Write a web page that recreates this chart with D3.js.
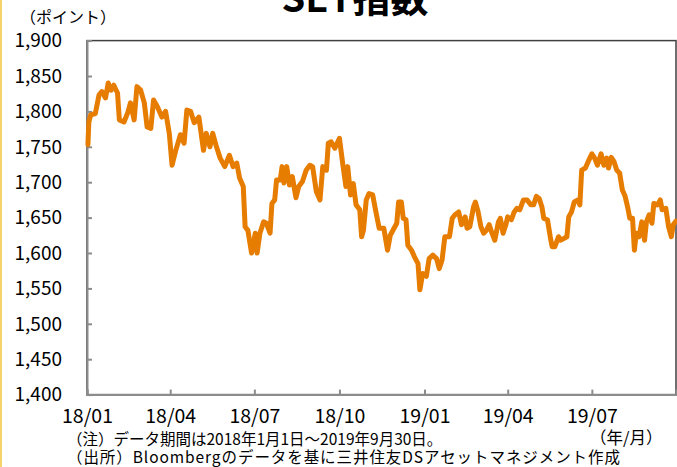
<!DOCTYPE html>
<html><head><meta charset="utf-8">
<script src="https://cdn.jsdelivr.net/npm/d3@7/dist/d3.min.js"></script>
<style>body{margin:0;background:#fff}svg{display:block}</style>
</head><body>
<svg id="c" width="677" height="467"></svg>
<script>
const title = "SET指数";
const yUnit = "（ポイント）";
const xUnit = "（年/月）";
const notes = ["（注）データ期間は2018年1月1日～2019年9月30日。","（出所）Bloombergのデータを基に三井住友DSアセットマネジメント作成"];
const yTicks = [1400,1450,1500,1550,1600,1650,1700,1750,1800,1850,1900];
const xTickDates = ["2018-01-01","2018-04-01","2018-07-01","2018-10-01","2019-01-01","2019-04-01","2019-07-01"];
const xTickLabels = ["18/01","18/04","18/07","18/10","19/01","19/04","19/07"];
const dates = ["2018-01-02","2018-01-03","2018-01-05","2018-01-10","2018-01-14","2018-01-17","2018-01-21","2018-01-24","2018-01-27","2018-01-30",
"2018-02-03","2018-02-05","2018-02-10","2018-02-14","2018-02-17","2018-02-21","2018-02-24","2018-02-28","2018-03-04","2018-03-07",
"2018-03-11","2018-03-14","2018-03-18","2018-03-23","2018-03-27","2018-03-31","2018-04-03","2018-04-07","2018-04-12","2018-04-16",
"2018-04-19","2018-04-23","2018-04-27","2018-05-02","2018-05-07","2018-05-10","2018-05-14","2018-05-17","2018-05-21","2018-05-25",
"2018-05-30","2018-06-04","2018-06-08","2018-06-12","2018-06-15","2018-06-19","2018-06-21","2018-06-24","2018-06-28","2018-07-02",
"2018-07-04","2018-07-07","2018-07-11","2018-07-14","2018-07-18","2018-07-20","2018-07-23","2018-07-25","2018-07-29","2018-07-31",
"2018-08-02","2018-08-05","2018-08-08","2018-08-11","2018-08-15","2018-08-18","2018-08-22","2018-08-26","2018-08-30","2018-09-02",
"2018-09-06","2018-09-10","2018-09-13","2018-09-17","2018-09-19","2018-09-22","2018-09-26","2018-10-01","2018-10-05","2018-10-08",
"2018-10-10","2018-10-13","2018-10-16","2018-10-19","2018-10-23","2018-10-25","2018-10-27","2018-10-30","2018-11-02","2018-11-06",
"2018-11-09","2018-11-13","2018-11-18","2018-11-22","2018-11-25","2018-12-02","2018-12-04","2018-12-07","2018-12-09","2018-12-12",
"2018-12-14","2018-12-18","2018-12-21","2018-12-25","2018-12-27","2018-12-30","2019-01-03","2019-01-06","2019-01-10","2019-01-14",
"2019-01-17","2019-01-20","2019-01-23","2019-01-28","2019-01-31","2019-02-03","2019-02-07","2019-02-10","2019-02-14","2019-02-16",
"2019-02-19","2019-02-23","2019-02-25","2019-02-28","2019-03-03","2019-03-06","2019-03-09","2019-03-12","2019-03-15","2019-03-18",
"2019-03-22","2019-03-24","2019-03-27","2019-03-30","2019-04-01","2019-04-05","2019-04-08","2019-04-11","2019-04-14","2019-04-18",
"2019-04-22","2019-04-26","2019-04-29","2019-05-02","2019-05-05","2019-05-08","2019-05-10","2019-05-14","2019-05-17","2019-05-19",
"2019-05-22","2019-05-26","2019-05-28","2019-05-31","2019-06-04","2019-06-06","2019-06-09","2019-06-12","2019-06-16","2019-06-18",
"2019-06-20","2019-06-24","2019-06-27","2019-07-01","2019-07-04","2019-07-07","2019-07-11","2019-07-14","2019-07-17","2019-07-19",
"2019-07-22","2019-07-25","2019-07-28","2019-07-31","2019-08-03","2019-08-06","2019-08-09","2019-08-11","2019-08-14","2019-08-16",
"2019-08-18","2019-08-21","2019-08-24","2019-08-27","2019-08-29","2019-09-01","2019-09-04","2019-09-06","2019-09-10","2019-09-13",
"2019-09-15","2019-09-19","2019-09-22","2019-09-25","2019-09-27","2019-09-30"];
const values = [1753,1785,1795,1797,1823,1828,1819,1840,1830,1837,
1826,1788,1785,1798,1812,1788,1835,1830,1812,1778,
1776,1816,1807,1792,1800,1769,1724,1745,1767,1755,
1802,1800,1784,1792,1745,1769,1750,1769,1750,1734,
1722,1738,1722,1727,1706,1694,1637,1632,1600,1628,
1600,1628,1644,1642,1628,1670,1675,1703,1703,1722,
1699,1722,1696,1708,1678,1694,1701,1717,1724,1722,
1687,1675,1722,1717,1755,1757,1748,1762,1722,1694,
1722,1682,1698,1668,1661,1623,1632,1675,1684,1682,
1661,1635,1635,1604,1625,1642,1672,1672,1649,1647,
1611,1604,1595,1585,1548,1571,1567,1592,1597,1592,
1578,1590,1623,1623,1649,1654,1658,1640,1651,1635,
1637,1665,1672,1658,1637,1628,1632,1640,1628,1618,
1644,1649,1628,1640,1651,1647,1658,1663,1661,1675,
1675,1668,1668,1680,1677,1665,1649,1647,1623,1609,
1609,1623,1618,1620,1623,1651,1658,1672,1675,1668,
1717,1720,1729,1740,1734,1724,1740,1724,1734,1720,
1735,1729,1717,1713,1689,1680,1663,1649,1649,1604,
1628,1623,1644,1618,1644,1654,1642,1670,1668,1675,
1661,1663,1637,1623,1640,1645];

const W = 677, H = 467;
const m = {left: 87, right: 676, top: 40.6, bottom: 394.6};
const font = "'Noto Sans CJK JP','Noto Sans',sans-serif";
const parse = d3.utcParse("%Y-%m-%d");
const svg = d3.select("#c");

svg.append("rect").attr("x",0).attr("y",0).attr("width",2).attr("height",H).attr("fill","#f5d26a");

const x = d3.scaleUtc().domain([parse("2018-01-01"), parse("2019-09-30")]).range([m.left, m.right]);
const y = d3.scaleLinear().domain([1400,1900]).range([m.bottom, m.top]);

// plot frame
svg.append("rect").attr("x",m.left).attr("y",m.top).attr("width",m.right-m.left).attr("height",m.bottom-m.top)
  .attr("fill","none").attr("stroke","#404040").attr("stroke-width",1.5);

// y axis
const yAxis = d3.axisLeft(y).tickValues(yTicks).tickSize(-5).tickPadding(25).tickFormat(d3.format(","));
const ga = svg.append("g").attr("transform",`translate(${m.left},0)`).call(yAxis);
ga.select(".domain").attr("stroke","#8c8c8c").attr("stroke-width",2);
ga.selectAll(".tick line").attr("stroke","#8c8c8c").attr("stroke-width",2);
ga.selectAll(".tick text").attr("font-family",font).attr("font-size",19).attr("fill","#000").attr("dy","0.33em");

// x axis
const xAxis = d3.axisBottom(x).tickValues(xTickDates.map(parse)).tickSize(-5).tickPadding(15)
  .tickFormat((d,i)=>xTickLabels[i]);
const gx = svg.append("g").attr("transform",`translate(0,${m.bottom})`).call(xAxis);
gx.select(".domain").attr("stroke","#8c8c8c").attr("stroke-width",2);
gx.selectAll(".tick line").attr("stroke","#8c8c8c").attr("stroke-width",2);
gx.selectAll(".tick text").attr("font-family",font).attr("font-size",19.5).attr("fill","#000");

// line
const data = dates.map((d,i)=>({date: parse(d), value: values[i]}));
svg.append("path").datum(data)
  .attr("fill","none").attr("stroke","#e67c00").attr("stroke-width",5)
  .attr("stroke-linejoin","round").attr("stroke-linecap","round")
  .attr("d", d3.line().x(d=>x(d.date)).y(d=>y(d.value)));

// texts
svg.append("text").attr("x",355).attr("y",12).attr("text-anchor","middle")
  .attr("font-family",font).attr("font-weight","bold").attr("font-size",38).attr("fill","#000").text(title);
svg.append("text").attr("x",20).attr("y",23).attr("font-family",font).attr("font-size",16).attr("fill","#000").text(yUnit);
svg.append("text").attr("x",590).attr("y",444).attr("font-family",font).attr("font-size",16.5).attr("fill","#000").text(xUnit);
svg.selectAll("text.note").data(notes).enter().append("text").attr("class","note")
  .attr("x",67).attr("y",(d,i)=>445+i*17.5).attr("font-family",font).attr("font-size",15.5).attr("fill","#000")
  .attr("textLength",(d,i)=> i===1 ? 553 : null).attr("lengthAdjust","spacing").text(d=>d);
</script>
</body></html>
